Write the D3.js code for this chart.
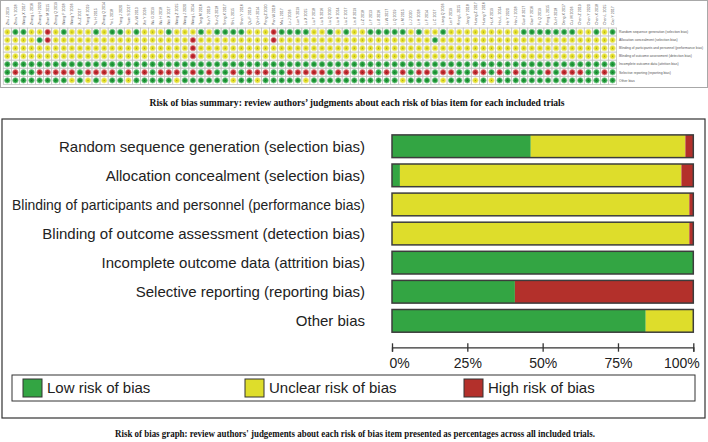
<!DOCTYPE html>
<html><head><meta charset="utf-8">
<script src="https://cdn.jsdelivr.net/npm/d3@7"></script>
<style>html,body{margin:0;padding:0;background:#fff;}svg{display:block;}</style>
</head><body>
<div id="chart"></div>
<script>
// ---------- DATA ----------
const studies = ["Zhu J 2019","Zhou Y 2018","Wang X 2017","Zhang L 2016","Zhang H 2020","Zhao M 2015","Zheng Q 2019","Wang F 2018","Wang Y 2016","Xu Z 2017","Yang K 2019","Yu H 2015","Zhang Q 2014","Ye L 2018","Yang J 2020","Yuan S 2017","Xu W 2013","Xie Y 2016","Wu G 2019","Wu H 2018","Wei X 2017","Wang Z 2015","Wang J 2020","Wang L 2014","Tang M 2016","Sun Y 2019","Sun Q 2018","Song X 2017","Shi L 2015","Shen Y 2016","Qiu F 2019","Qin H 2014","Peng Z 2020","Pan W 2018","Ma L 2017","Lv J 2016","Luo Y 2019","Lu X 2015","Liu Y 2018","Liu S 2016","Liu Q 2020","Liu H 2014","Liu C 2017","Lin X 2019","Li Z 2018","Li Y 2013","Li X 2016","Li W 2017","Li Q 2019","Li M 2015","Li J 2020","Li H 2018","Li F 2014","Li C 2017","Liang Q 2016","Lei Y 2019","Kong L 2015","Jiang Y 2018","Huang Z 2017","Huang Y 2016","Hu X 2019","Hou L 2014","He Y 2020","Han J 2018","Guo X 2017","Gao Y 2016","Fu Q 2019","Feng L 2015","Du H 2018","Deng X 2017","Cui M 2016","Chen Z 2019","Chen Y 2020","Chen X 2018","Chen L 2015","Cao Y 2017"];

const domains = [
  "Random sequence generation (selection bias)",
  "Allocation concealment (selection bias)",
  "Blinding of participants and personnel (performance bias)",
  "Blinding of outcome assessment (detection bias)",
  "Incomplete outcome data (attrition bias)",
  "Selective reporting (reporting bias)",
  "Other bias"
];

// L = low, U = unclear, H = high ; one character per study
const randomSeq   = "ULLUUHULUUULULLULUU" + "ULUUULULLLLUUUHLLLL" + "UULULUULLLLLULUULUU" + "UUUUUUULLLLLLLUULUL";
const allocation  = "UUUULHUUUUUUUUUUUUU" + "UUUUHUUUUUUUUUHUUUU" + "UUUUUUUUUUUUUUULUUU" + "UUUUUUUUUUUUUUUUUUU";
const blindPart   = "UUUUUUUUUUUUUUUUUUU" + "UUUUHUUUUUUUUUUUUUU" + "UUUUUUUUUUUUUUUUUUU" + "UUUUUUUUUUUUUUUUUUU";
const blindOut    = "UUUUUUUUUUUUUUUUUUU" + "UUUUHUUUUUUUUUUUUUU" + "UUUUUUUUUUUUUUUUUUU" + "UUUUUUUUUUUUUUUUUUU";
const incomplete  = "LLLLLLLLLLLLLLLLLLL" + "LLLLLLLLLLLLLLLLLLL" + "LLLLLLLLLLLLLLLLLLL" + "LLLLLLLLLLLLLLLLLLL";
const selective   = "LHLLHHHHHLHHHHLHLHL" + "HHHLHLHLLHLHHHLLHHH" + "HHLHHLHHLHLHLHHLHHL" + "LHHLHLHLLLHLHHHLLHL";
const otherBias   = "LLLLLLLLULULULLULLL" + "LLULLLLLLULLULLLLLU" + "LLLLLLLLLLLULLLLULL" + "LULULLLLLLLLLLLLLLL";
const judgments = [randomSeq, allocation, blindPart, blindOut, incomplete, selective, otherBias];

const levels = ["L","U","H"];
const legendLabels = ["Low risk of bias","Unclear risk of bias","High risk of bias"];
const tickValues = [0, 0.25, 0.5, 0.75, 1];
const tickLabels = ["0%","25%","50%","75%","100%"];

const caption1 = "Risk of bias summary: review authors\u2019 judgments about each risk of bias item for each included trials";
const caption2 = "Risk of bias graph: review authors' judgements about each risk of bias item presented as percentages across all included trials.";

// ---------- STYLE ----------
const barColor = {L:"#33a543", U:"#dedd2b", H:"#b3302b"};
const dotColor = {L:"#229c3b", U:"#e3df2a", H:"#c1282d"};
const dotRing  = {L:"#7cc98a", U:"#f1ee93", H:"#e08a8c"};

const W = 708, H = 442;
const svg = d3.select("#chart").append("svg").attr("width", W).attr("height", H)
  .style("font-family", "'Liberation Sans', Arial, sans-serif");
svg.append("rect").attr("width", W).attr("height", H).attr("fill", "#fff");

// ---------- TOP: summary grid ----------
svg.append("rect").attr("x", 0.5).attr("y", 0.5).attr("width", W - 1).attr("height", 87)
  .attr("fill", "none").attr("stroke", "#a8a8a8").attr("stroke-width", 1);

const gx = d3.scaleBand().domain(studies).range([3.3, 616.6]);
const gy = d3.scaleBand().domain(domains).range([28, 84.4]);

const grid = svg.append("g");
domains.forEach((dom, j) => {
  studies.forEach((st, i) => {
    grid.append("rect")
      .attr("x", gx(st)).attr("y", gy(dom))
      .attr("width", gx.bandwidth()).attr("height", gy.bandwidth())
      .attr("fill", "#fff").attr("stroke", "#c4c4c4").attr("stroke-width", 0.8);
  });
});
domains.forEach((dom, j) => {
  studies.forEach((st, i) => {
    const v = judgments[j][i];
    const cx = gx(st) + gx.bandwidth() / 2, cy = gy(dom) + gy.bandwidth() / 2;
    grid.append("circle").attr("cx", cx).attr("cy", cy).attr("r", 2.7)
      .attr("fill", dotColor[v]).attr("stroke", dotRing[v]).attr("stroke-width", 0.8);
    grid.append("circle").attr("cx", cx).attr("cy", cy).attr("r", 0.6)
      .attr("fill", "rgba(0,0,0,0.35)");
  });
});
grid.selectAll("text.study").data(studies).enter().append("text")
  .attr("class", "study")
  .attr("transform", d => `translate(${gx(d) + gx.bandwidth() / 2 + 1.2},25) rotate(-90)`)
  .attr("font-size", 3.6).attr("fill", "#555").text(d => d);
grid.selectAll("text.dom").data(domains).enter().append("text")
  .attr("class", "dom")
  .attr("x", 619).attr("y", d => gy(d) + gy.bandwidth() / 2 + 1.2)
  .attr("font-size", 3.4).attr("fill", "#555")
  .each(function(d) {
    const t = d3.select(this).text(d);
    if (this.getComputedTextLength() > 84) t.attr("textLength", 84).attr("lengthAdjust", "spacingAndGlyphs");
  });

svg.append("text").attr("x", 357).attr("y", 106).attr("text-anchor", "middle")
  .attr("font-family", "'Liberation Serif', 'Times New Roman', serif").attr("font-weight", "bold")
  .attr("font-size", 10).attr("textLength", 415).attr("lengthAdjust", "spacingAndGlyphs")
  .attr("fill", "#111").text(caption1);

// ---------- BOTTOM: risk of bias graph ----------
svg.append("rect").attr("x", 2).attr("y", 119).attr("width", 703).attr("height", 299)
  .attr("fill", "none").attr("stroke", "#333").attr("stroke-width", 1.2);

const x = d3.scaleLinear().domain([0, 1]).range([392, 693.3]);
const y = d3.scaleBand().domain(domains).range([131.7, 335.4]).paddingInner(0.22).paddingOuter(0.11);

const stacks = domains.map((dom, j) => {
  const s = judgments[j];
  const n = s.length;
  let acc = 0;
  return levels.map(l => {
    const frac = s.split("").filter(c => c === l).length / n;
    const seg = {dom, level: l, x0: acc, x1: acc + frac};
    acc += frac;
    return seg;
  });
});

const bars = svg.append("g");
stacks.forEach(segs => {
  segs.filter(s => s.x1 > s.x0).forEach(s => {
    bars.append("rect").attr("x", x(s.x0)).attr("y", y(s.dom))
      .attr("width", x(s.x1) - x(s.x0)).attr("height", y.bandwidth())
      .attr("fill", barColor[s.level]);
  });
  bars.append("rect").attr("x", x(0)).attr("y", y(segs[0].dom))
    .attr("width", x(1) - x(0)).attr("height", y.bandwidth())
    .attr("fill", "none").attr("stroke", "#3c3c3c").attr("stroke-width", 1.5);
});

svg.append("g").selectAll("text").data(domains).enter().append("text")
  .attr("x", 365).attr("y", d => y(d) + y.bandwidth() / 2)
  .attr("dy", "0.35em").attr("text-anchor", "end")
  .attr("font-size", 15).attr("fill", "#222")
  .each(function(d) {
    const t = d3.select(this).text(d);
    if (this.getComputedTextLength() > 353) t.attr("textLength", 353).attr("lengthAdjust", "spacingAndGlyphs");
  });

const axis = svg.append("g").attr("transform", "translate(0,347.3)")
  .call(d3.axisBottom(x).tickValues(tickValues).tickFormat((d, i) => tickLabels[i]).tickSize(4.4).tickPadding(6));
axis.select(".domain").attr("stroke", "#333").attr("stroke-width", 1.3);
axis.selectAll(".tick line").attr("y1", -4).attr("stroke", "#333").attr("stroke-width", 1.3);
axis.selectAll(".tick text").attr("font-size", 14).attr("fill", "#222")
  .attr("font-family", "'Liberation Sans', Arial, sans-serif")
  .attr("text-anchor", (d, i) => i === 0 ? "start" : (i === tickValues.length - 1 ? "end" : "middle"))
  .attr("dx", (d, i) => i === 0 ? -3 : (i === tickValues.length - 1 ? 6 : 0));

// legend
const leg = svg.append("g");
leg.append("rect").attr("x", 12).attr("y", 375).attr("width", 683).attr("height", 26)
  .attr("fill", "#fff").attr("stroke", "#333").attr("stroke-width", 1);
const legX = [23, 245, 464];
levels.forEach((l, i) => {
  leg.append("rect").attr("x", legX[i]).attr("y", 379).attr("width", 19).attr("height", 18)
    .attr("fill", barColor[l]).attr("stroke", "#333").attr("stroke-width", 1);
  leg.append("text").attr("x", legX[i] + 24).attr("y", 388).attr("dy", "0.35em")
    .attr("font-size", 15).attr("fill", "#222").text(legendLabels[i]);
});

svg.append("text").attr("x", 355).attr("y", 437).attr("text-anchor", "middle")
  .attr("font-family", "'Liberation Serif', 'Times New Roman', serif").attr("font-weight", "bold")
  .attr("font-size", 10).attr("textLength", 480).attr("lengthAdjust", "spacingAndGlyphs")
  .attr("fill", "#111").text(caption2);
</script>
</body></html>
